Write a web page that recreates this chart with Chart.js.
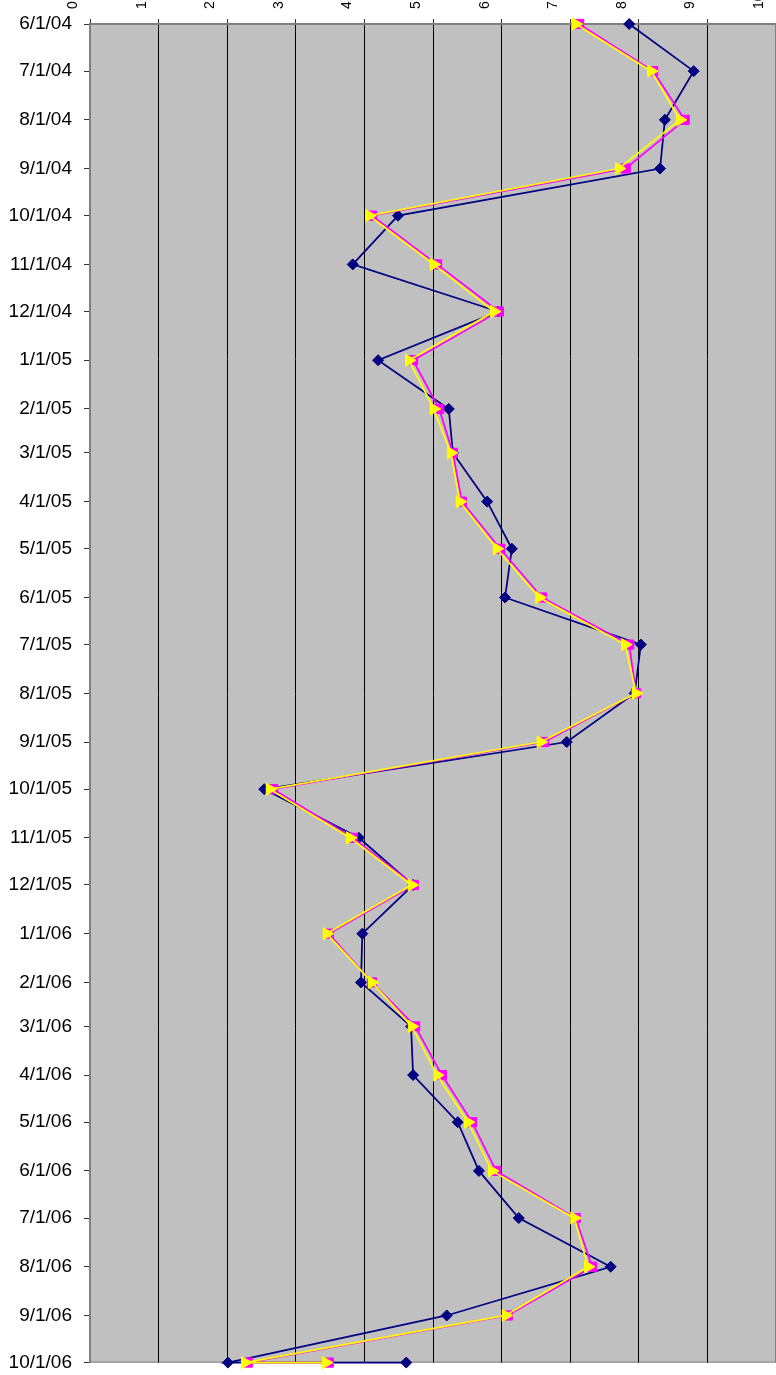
<!DOCTYPE html>
<html>
<head>
<meta charset="utf-8">
<script src="https://cdn.jsdelivr.net/npm/chart.js@4/dist/chart.umd.min.js"></script>
<style>
  html, body { margin: 0; padding: 0; background: #fff; overflow: hidden; width: 776px; height: 1375px; }
  #wrap { position: absolute; left: 0; top: -40px; width: 800px; height: 1426px; }
</style>
</head>
<body>
<div id="wrap"><canvas id="c" width="800" height="1426"></canvas></div>
<script>
// Month-start dates shown on the vertical axis
const dates = ["6/1/04","7/1/04","8/1/04","9/1/04","10/1/04","11/1/04","12/1/04",
  "1/1/05","2/1/05","3/1/05","4/1/05","5/1/05","6/1/05","7/1/05","8/1/05","9/1/05",
  "10/1/05","11/1/05","12/1/05","1/1/06","2/1/06","3/1/06","4/1/06","5/1/06","6/1/06",
  "7/1/06","8/1/06","9/1/06","10/1/06"];

// Dates of the plotted points (the last month carries two readings)
const pointDates = dates.concat(["10/1/06"]);

// Series values (one per point date)
const navyValues = [7.86, 8.80, 8.38, 8.31, 4.49, 3.83, 5.95, 4.20, 5.23, 5.29, 5.79, 6.15,
  6.05, 8.03, 7.94, 6.95, 2.54, 3.92, 4.71, 3.97, 3.95, 4.68, 4.71, 5.36, 5.67, 6.25,
  7.59, 5.20, 2.01, 4.61];
const magentaValues = [7.13, 8.21, 8.67, 7.81, 4.11, 5.06, 5.96, 4.71, 5.09, 5.29, 5.42, 5.98,
  6.59, 7.86, 7.96, 6.62, 2.67, 3.83, 4.72, 3.48, 4.11, 4.74, 5.13, 5.57, 5.92, 7.08,
  7.32, 6.09, 2.30, 3.48];
const yellowValues = [7.08, 8.18, 8.60, 7.71, 4.07, 5.01, 5.89, 4.65, 5.01, 5.26, 5.39, 5.93,
  6.55, 7.80, 7.96, 6.57, 2.62, 3.79, 4.69, 3.45, 4.11, 4.69, 5.06, 5.51, 5.86, 7.06,
  7.26, 6.06, 2.26, 3.44];

// Value axis tick values
const valueTicks = [0, 1, 2, 3, 4, 5, 6, 7, 8, 9, 10];

// Convert "m/d/yy" into days since the first date
function dayNumber(s) {
  const [m, d, y] = s.split("/").map(Number);
  return (Date.UTC(2000 + y, m - 1, d) - Date.UTC(2004, 5, 1)) / 864e5;
}
const dateDays = dates.map(dayNumber);
const labelByDay = {};
dates.forEach((s, i) => { labelByDay[dateDays[i]] = s; });

function series(values) {
  return values.map((v, i) => ({ x: v, y: dayNumber(pointDates[i]) }));
}

const plotArea = {
  id: 'plotArea',
  beforeDraw(chart) {
    const { ctx, chartArea: a } = chart;
    ctx.save();
    ctx.fillStyle = '#C0C0C0';
    ctx.fillRect(a.left, a.top, a.right - a.left, a.bottom - a.top);
    ctx.strokeStyle = '#808080';
    ctx.lineWidth = 1;
    ctx.strokeRect(a.left + 0.5, a.top + 0.5, a.right - a.left - 1, a.bottom - a.top - 1);
    ctx.restore();
  }
};

new Chart(document.getElementById('c'), {
  type: 'line',
  data: {
    datasets: [
      {
        data: series(navyValues),
        borderColor: '#000080', backgroundColor: '#000080', borderWidth: 1.75,
        pointStyle: 'rectRot', pointRadius: 5.5, pointBorderWidth: 1,
        pointBackgroundColor: '#000080', pointBorderColor: '#000080',
        tension: 0, clip: false, order: 2
      },
      {
        data: series(magentaValues),
        borderColor: '#FF00FF', backgroundColor: '#FF00FF', borderWidth: 1.75,
        pointStyle: 'rect', pointRadius: 6.5, pointBorderWidth: 1,
        pointBackgroundColor: '#FF00FF', pointBorderColor: '#FF00FF',
        tension: 0, clip: false, order: 1
      },
      {
        data: series(yellowValues),
        borderColor: '#FFFF00', backgroundColor: '#FFFF00', borderWidth: 1.75,
        pointStyle: 'triangle', pointRotation: 90, pointRadius: 7, pointBorderWidth: 1,
        pointBackgroundColor: '#FFFF00', pointBorderColor: '#FFFF00',
        tension: 0, clip: false, order: 0
      }
    ]
  },
  options: {
    responsive: false,
    animation: false,
    devicePixelRatio: 1,
    layout: { padding: { left: 0, right: 24, top: 0, bottom: 13 } },
    plugins: { legend: { display: false }, tooltip: { enabled: false } },
    scales: {
      x: {
        type: 'linear',
        position: 'top',
        min: valueTicks[0],
        max: valueTicks[valueTicks.length - 1],
        afterBuildTicks(scale) { scale.ticks = valueTicks.map(v => ({ value: v })); },
        afterFit(scale) { scale.height = 64; },
        grid: { color: '#000000', lineWidth: 1, drawTicks: true, tickLength: 5, tickColor: '#333333' },
        border: { display: true, color: '#808080', width: 2 },
        ticks: {
          minRotation: 90, maxRotation: 90, padding: 10, autoSkip: false,
          color: '#000', font: { family: "'Liberation Sans', Arial, sans-serif", size: 14 }
        }
      },
      y: {
        type: 'linear',
        reverse: true,
        min: dateDays[0],
        max: dateDays[dateDays.length - 1],
        afterBuildTicks(scale) { scale.ticks = dateDays.map(v => ({ value: v })); },
        afterFit(scale) { scale.width = 90; },
        grid: { drawOnChartArea: false, drawTicks: true, tickLength: 6, tickColor: '#333333' },
        border: { display: true, color: '#808080', width: 2 },
        ticks: {
          autoSkip: false, padding: 12, color: '#000',
          font: { family: "'Liberation Sans', Arial, sans-serif", size: 19 },
          callback: (v) => labelByDay[v] || ''
        }
      }
    }
  },
  plugins: [plotArea]
});
</script>
</body>
</html>
